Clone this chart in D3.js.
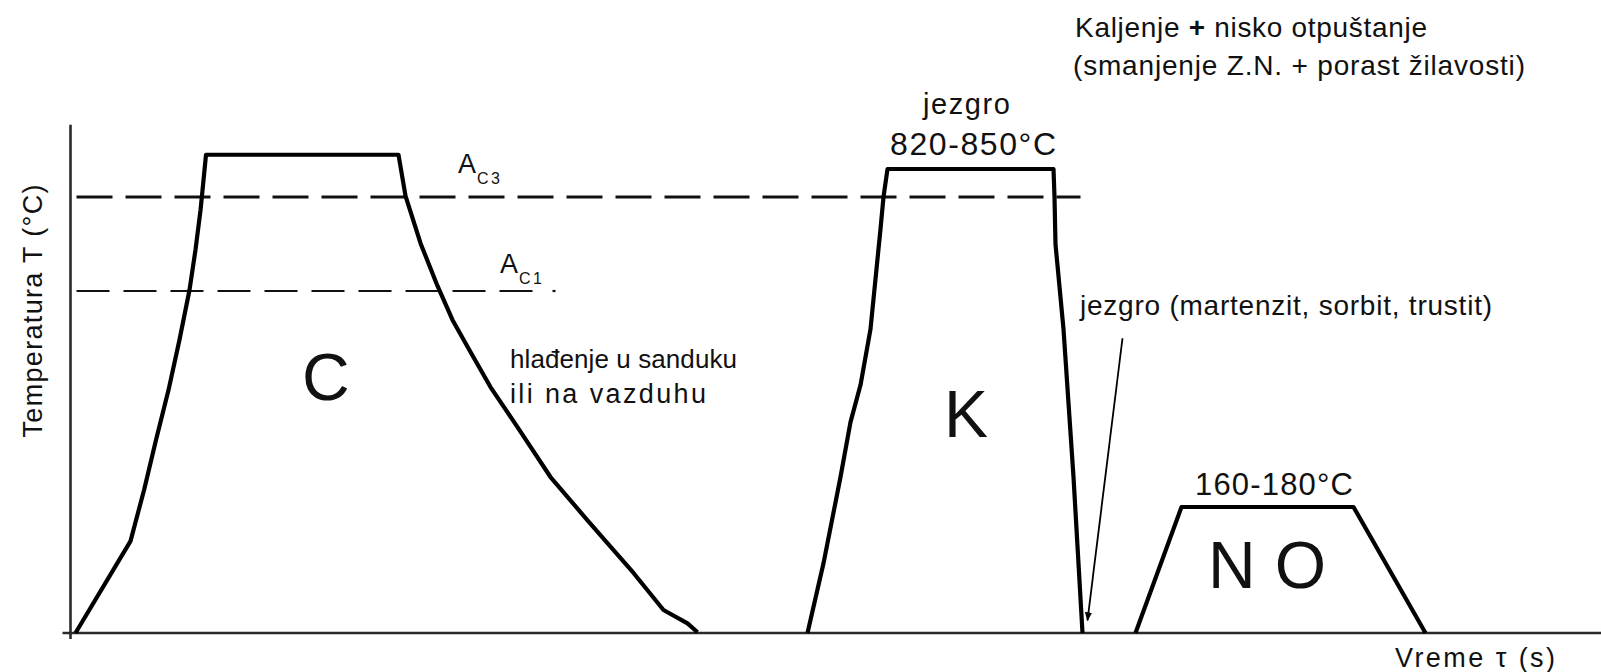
<!DOCTYPE html>
<html>
<head>
<meta charset="utf-8">
<script src="https://cdn.jsdelivr.net/npm/d3@7"></script>
<style>
  html, body { margin: 0; padding: 0; background: #fff; }
  svg { display: block; }
  text { font-family: Arial, "Liberation Sans", Helvetica, sans-serif; fill: #111; }
</style>
</head>
<body>
<svg id="chart" width="1601" height="672"></svg>
<script>
// Schematic heat-treatment cycle: cementation (C), hardening (K), low tempering (NO).
// Time in arbitrary units, temperature in °C on a schematic (piecewise) axis.

// Cementation: heating, holding, slow cooling in the box or in air
const cementTime = [5, 60, 73.5, 85.5, 98, 109, 119, 125, 130, 133, 135.5, 328, 335, 350, 367, 382, 400, 420, 447, 480, 517, 563, 593, 617, 627];
const cementTemp = [0, 124, 203, 302, 400, 499, 597, 676, 754, 813, 863, 863, 782, 689, 605, 538, 475, 406, 327, 229, 152, 81, 31, 13, 1];

// Core hardening at 820-850 °C, then quenching
const hardenTime = [737, 753, 770, 780, 790, 800, 810, 813, 817, 983, 984, 985, 993, 1003, 1012];
const hardenTemp = [0, 94, 229, 337, 410, 520, 717, 780, 835, 835, 780, 687, 520, 229, 0];

// Low tempering at 160-180 °C
const temperTime = [1065, 1111, 1283, 1355];
const temperTemp = [0, 170, 170, 0];

// Critical temperatures A_C3 and A_C1 (dashed reference lines)
const criticalNames = ["C3", "C1"];
const criticalTemps = [780, 595];
const criticalStart = [6, 6];
const criticalEnd = [1010, 470];

// Pointer from the core-structure note to the end of quenching
const pointerTime = [1052, 1017];
const pointerTemp = [502, 17];

// Axis extents
const timeExtent = [-8, 1531];
const tempExtent = [-8, 922];

const svg = d3.select("#chart");

const x = d3.scaleLinear().domain([0, 1531]).range([70.5, 1601.5]);
// piecewise temperature axis: the low range is stretched so both cycles are readable
const y = d3.scaleLinear().domain([0, 170, 835]).range([633, 507, 169]);

// axes (no ticks)
svg.append("line")
  .attr("x1", x(0)).attr("x2", x(0))
  .attr("y1", y(tempExtent[0])).attr("y2", y(tempExtent[1]))
  .attr("stroke", "#2a2a2a").attr("stroke-width", 2.6);
svg.append("line")
  .attr("x1", x(timeExtent[0])).attr("x2", x(timeExtent[1]))
  .attr("y1", y(0)).attr("y2", y(0))
  .attr("stroke", "#2a2a2a").attr("stroke-width", 2.6);

// critical temperature lines
criticalTemps.forEach((t, i) => {
  svg.append("line")
    .attr("x1", x(criticalStart[i])).attr("x2", x(criticalEnd[i]))
    .attr("y1", y(t)).attr("y2", y(t))
    .attr("stroke", "#111")
    .attr("stroke-width", i === 0 ? 3 : 2.2)
    .attr("stroke-dasharray", i === 0 ? "36,13" : "33,14");
});
// closing dot of the A_C1 line
svg.append("line")
  .attr("x1", x(criticalEnd[1] + 12)).attr("x2", x(criticalEnd[1] + 15))
  .attr("y1", y(criticalTemps[1])).attr("y2", y(criticalTemps[1]))
  .attr("stroke", "#111").attr("stroke-width", 2.2);

// cycle profiles
const line = d3.line().x(d => x(d[0])).y(d => y(d[1]));
[[cementTime, cementTemp], [hardenTime, hardenTemp], [temperTime, temperTemp]].forEach(([ts, vs]) => {
  svg.append("path")
    .datum(ts.map((t, i) => [t, vs[i]]))
    .attr("d", line)
    .attr("fill", "none")
    .attr("stroke", "#000")
    .attr("stroke-width", 4.2)
    .attr("stroke-linejoin", "round");
});

// pointer arrow
svg.append("defs").append("marker")
  .attr("id", "tip").attr("viewBox", "0 0 10 10")
  .attr("refX", 9).attr("refY", 5)
  .attr("markerWidth", 9).attr("markerHeight", 9)
  .attr("markerUnits", "userSpaceOnUse")
  .attr("orient", "auto")
  .append("path").attr("d", "M0,1 L10,5 L0,9 Z").attr("fill", "#000");
svg.append("line")
  .attr("x1", x(pointerTime[0])).attr("y1", y(pointerTemp[0]))
  .attr("x2", x(pointerTime[1])).attr("y2", y(pointerTemp[1]))
  .attr("stroke", "#000").attr("stroke-width", 1.8)
  .attr("marker-end", "url(#tip)");

// text helper
function label(txt, px, py, size, len) {
  const t = svg.append("text")
    .attr("x", px).attr("y", py)
    .attr("font-size", size)
    .text(txt);
  if (len) t.attr("textLength", len).attr("lengthAdjust", "spacing");
  return t;
}

// heading note
const head = svg.append("text")
  .attr("x", 1075).attr("y", 37).attr("font-size", 28)
  .attr("textLength", 352).attr("lengthAdjust", "spacing");
head.append("tspan").text("Kaljenje ");
head.append("tspan").attr("font-weight", "bold").text("+");
head.append("tspan").text(" nisko otpuštanje");
label("(smanjenje Z.N. + porast žilavosti)", 1073, 75, 28, 452);

// hardening labels
label("jezgro", 923, 114, 29, 87);
label("820-850°C", 890, 155, 32, 166);
label("jezgro (martenzit, sorbit, trustit)", 1080, 315, 28, 412);

// critical temperature labels
const critLabelPos = [[458, 173], [500, 273]];
criticalNames.forEach((n, i) => {
  const [lx, ly] = critLabelPos[i];
  label("A", lx, ly, 27);
  label(n, lx + 19, ly + 11, 16, 23);
});

// cooling note
label("hlađenje u sanduku", 510, 368, 26, 227);
label("ili na vazduhu", 510, 403, 27, 196);

// process letters
label("C", 302, 400, 66);
label("K", 944, 437, 66);
label("N O", 1208, 588, 66, 118);

// tempering label
label("160-180°C", 1195, 495, 31, 158);

// axis titles
const xt = svg.append("text")
  .attr("x", 1395).attr("y", 667).attr("font-size", 27)
  .attr("textLength", 160).attr("lengthAdjust", "spacing");
xt.append("tspan").text("Vreme");
xt.append("tspan").attr("dx", 10).text("τ (s)");

svg.append("text")
  .attr("transform", "translate(42,311) rotate(-90)")
  .attr("text-anchor", "middle")
  .attr("font-size", 27)
  .attr("textLength", 253).attr("lengthAdjust", "spacing")
  .text("Temperatura T (°C)");
</script>
</body>
</html>
